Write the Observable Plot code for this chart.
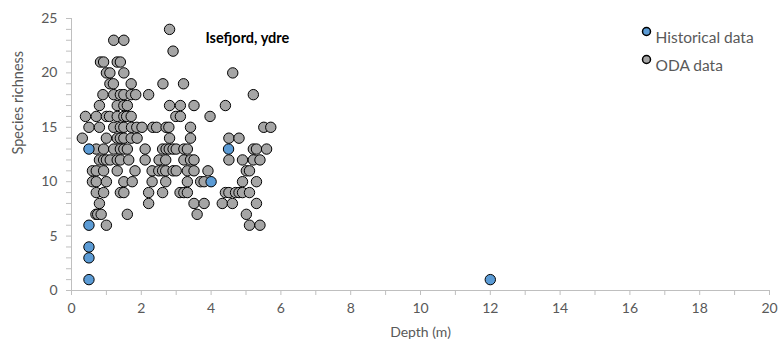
<!DOCTYPE html>
<html>
<head>
<meta charset="utf-8">
<script src="https://cdn.jsdelivr.net/npm/d3@7"></script>
<script src="https://cdn.jsdelivr.net/npm/@observablehq/plot@0.6"></script>
<style>
  html, body { margin: 0; padding: 0; background: #fff; }
  #chart { width: 779px; height: 354px; }
</style>
</head>
<body>
<div id="chart"></div>
<script>
// Historical data (depth m, species richness)
const histDepth = [0.5, 0.5, 0.5, 0.5, 0.5, 4.5, 4.0, 12];
const histRich  = [13, 6, 4, 3, 1, 13, 10, 1];

// ODA data: depths grouped by species richness value
const odaRows = [
  [24, [2.81]],
  [23, [1.21, 1.50]],
  [22, [2.91]],
  [21, [0.83, 0.92, 1.31, 1.40]],
  [20, [1.0, 1.1, 1.5, 4.62]],
  [19, [1.1, 1.2, 1.71, 2.62, 3.21]],
  [18, [0.9, 1.21, 1.4, 1.5, 1.71, 1.84, 2.21, 5.21]],
  [17, [0.8, 1.31, 1.5, 1.6, 2.81, 3.12, 3.51, 4.41]],
  [16, [0.4, 0.71, 1.0, 1.09, 1.31, 1.5, 1.58, 1.71, 2.99, 3.12, 3.97]],
  [15, [0.5, 0.8, 1.21, 1.4, 1.5, 1.72, 1.87, 2.02, 2.33, 2.44, 2.71, 2.79, 3.41, 5.51, 5.71]],
  [14, [0.31, 1.0, 1.31, 1.4, 1.5, 1.71, 1.88, 2.81, 3.41, 4.51, 4.8]],
  [13, [0.71, 0.92, 1.21, 1.4, 1.5, 1.6, 2.11, 2.61, 2.71, 2.8, 2.91, 3.0, 3.22, 3.32, 5.21, 5.3, 5.59]],
  [12, [0.8, 0.92, 1.0, 1.11, 1.31, 1.4, 1.64, 2.11, 2.51, 2.7, 3.22, 3.41, 3.51, 4.51, 4.9, 5.21, 5.4]],
  [11, [0.6, 0.71, 0.92, 1.31, 1.82, 2.31, 2.5, 2.61, 2.7, 2.91, 3.0, 3.32, 3.51, 3.91, 5.01, 5.1]],
  [10, [0.6, 0.71, 1.0, 1.5, 1.74, 2.31, 2.7, 3.32, 3.7, 3.8, 4.9, 5.3]],
  [9,  [0.71, 0.92, 1.4, 1.5, 2.21, 2.61, 3.11, 3.22, 3.32, 4.41, 4.51, 4.7, 4.8, 4.9, 5.1]],
  [8,  [0.8, 2.21, 3.51, 3.8, 4.32, 4.61, 5.3]],
  [7,  [0.7, 0.75, 0.85, 1.6, 3.6, 5.01]],
  [6,  [1.0, 5.1, 5.4]]
];

const xTicks = d3.range(0, 21, 1);
const xLabelTicks = d3.range(0, 21, 2);
const yTicks = d3.range(0, 26, 1);
const yLabelTicks = d3.range(0, 26, 5);

const titleText = "Isefjord, ydre";
const xLabel = "Depth (m)";
const yLabel = "Species richness";
const legendLabels = ["Historical data", "ODA data"];

const blue = "#5b9bd5";
const gray = "#a5a5a5";
const font = "Lato, 'Open Sans', sans-serif";

const hist = histDepth.map((d, i) => ({depth: d, rich: histRich[i]}));
const oda = odaRows.flatMap(([r, ds]) => ds.map(d => ({depth: d, rich: r})));

const axisColor = "#bfbfbf";
const textColor = "#595959";

const plot = Plot.plot({
  width: 779,
  height: 354,
  marginLeft: 71,
  marginRight: 10,
  marginTop: 18,
  marginBottom: 64,
  style: {fontFamily: font, fontSize: "14px", color: textColor, background: "#fff"},
  x: {domain: [0, 20]},
  y: {domain: [0, 25]},
  marks: [
    Plot.ruleX([0], {stroke: axisColor}),
    Plot.ruleY([0], {stroke: axisColor}),
    Plot.axisX({ticks: xTicks, tickSize: 5, tickFormat: () => "", stroke: axisColor, label: null}),
    Plot.axisX({ticks: xLabelTicks, tickSize: 0, tickPadding: 13, fill: textColor, fontSize: 14, label: null}),
    Plot.axisY({ticks: yTicks, tickSize: 5, tickFormat: () => "", stroke: axisColor, label: null}),
    Plot.axisY({ticks: yLabelTicks, tickSize: 0, tickPadding: 14, fill: textColor, fontSize: 14, label: null}),
    Plot.text([xLabel], {frameAnchor: "bottom", dy: 46, fill: textColor, fontSize: 14}),
    Plot.text([yLabel], {frameAnchor: "left", rotate: -90, dx: -53, fill: textColor, fontSize: 14.5}),
    Plot.text([titleText], {frameAnchor: "top-left", dx: 134, dy: 14, textAnchor: "start", fontWeight: "bold", fill: "#000", fontSize: 14.5}),
    Plot.dot(oda, {x: "depth", y: "rich", r: 5.2, fill: gray, stroke: "#000", strokeWidth: 1}),
    Plot.dot(hist, {x: "depth", y: "rich", r: 5.2, fill: blue, stroke: "#000", strokeWidth: 1}),
    Plot.dot([legendLabels[0]], {frameAnchor: "top-left", dx: 575, dy: 13, r: 4, fill: blue, stroke: "#000"}),
    Plot.dot([legendLabels[1]], {frameAnchor: "top-left", dx: 575, dy: 41, r: 4, fill: gray, stroke: "#000"}),
    Plot.text([legendLabels[0]], {frameAnchor: "top-left", dx: 584, dy: 13, textAnchor: "start", fill: textColor, fontSize: 15.5}),
    Plot.text([legendLabels[1]], {frameAnchor: "top-left", dx: 584, dy: 41, textAnchor: "start", fill: textColor, fontSize: 15.5})
  ]
});
document.getElementById("chart").appendChild(plot);
</script>
</body>
</html>
